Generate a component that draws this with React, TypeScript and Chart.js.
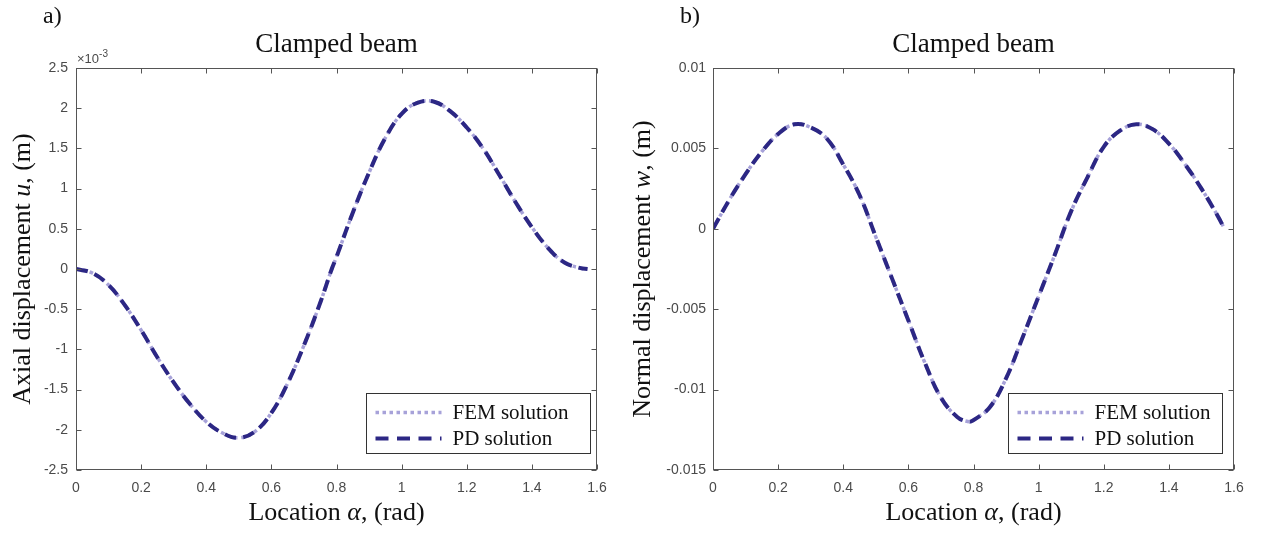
import React, { useEffect, useRef } from 'react';
import { Chart, registerables } from 'chart.js';

Chart.register(...registerables);

// ---------- data ----------
const alpha = [0, 0.05, 0.1, 0.15, 0.2, 0.25, 0.3, 0.35, 0.4, 0.45, 0.5, 0.55, 0.6, 0.65, 0.7, 0.75, 0.7854,
  0.8, 0.85, 0.9, 0.95, 1.0, 1.05, 1.1, 1.15, 1.2, 1.25, 1.3, 1.35, 1.4, 1.45, 1.5, 1.55, 1.5708];

// axial displacement u, in units of 1e-3 m
const axialU = [0, -0.05, -0.2, -0.45, -0.76, -1.1, -1.41, -1.68, -1.9, -2.04, -2.1, -2.02, -1.79, -1.42, -0.95, -0.42, 0,
  0.15, 0.7, 1.2, 1.63, 1.93, 2.07, 2.08, 1.96, 1.76, 1.5, 1.17, 0.83, 0.52, 0.26, 0.08, 0.01, 0];

// normal displacement w, in m
const normalW = [0, 0.0018, 0.0034, 0.0048, 0.0059, 0.0065, 0.0063, 0.0056, 0.004, 0.0021, -0.0005, -0.0031, -0.0057,
  -0.0083, -0.0105, -0.0117, -0.012, -0.0119, -0.0111, -0.0093, -0.0068, -0.0042, -0.0016, 0.0011, 0.0032, 0.0051,
  0.0061, 0.0065, 0.0062, 0.0053, 0.004, 0.0025, 0.0008, 0];

const xTicks = [0, 0.2, 0.4, 0.6, 0.8, 1, 1.2, 1.4, 1.6];
const yTicksU = [-2.5, -2, -1.5, -1, -0.5, 0, 0.5, 1, 1.5, 2, 2.5];
const yTicksW = [-0.015, -0.01, -0.005, 0, 0.005, 0.01];

const seriesLabels = ['FEM solution', 'PD solution'];
const titleText = 'Clamped beam';
const xLabelRuns = [
  { text: 'Location ', italic: false },
  { text: 'α', italic: true },
  { text: ', (rad)', italic: false },
];
const yLabelRunsU = [
  { text: 'Axial displacement ', italic: false },
  { text: 'u', italic: true },
  { text: ', (m)', italic: false },
];
const yLabelRunsW = [
  { text: 'Normal displacement ', italic: false },
  { text: 'w', italic: true },
  { text: ', (m)', italic: false },
];

// ---------- styles ----------
const FEM_COLOR = '#a7a2d9';
const PD_COLOR = '#2c2784';
const AXIS_COLOR = '#555555';
const TICK_LABEL_COLOR = '#4a4a4a';
const TEXT_COLOR = '#111111';
const SERIF = '"Liberation Serif", "Times New Roman", serif';
const SANS = '"Liberation Sans", Arial, sans-serif';
const CANVAS_H = 534;

type Run = { text: string; italic: boolean };

function drawRuns(ctx: CanvasRenderingContext2D, runs: Run[], x: number, y: number, size: number) {
  const fonts = runs.map((r) => `${r.italic ? 'italic ' : ''}${size}px ${SERIF}`);
  let total = 0;
  const widths = runs.map((r, i) => {
    ctx.font = fonts[i];
    const w = ctx.measureText(r.text).width;
    total += w;
    return w;
  });
  let cx = x - total / 2;
  ctx.textAlign = 'left';
  runs.forEach((r, i) => {
    ctx.font = fonts[i];
    ctx.fillText(r.text, cx, y);
    cx += widths[i];
  });
}

type PanelCfg = {
  letter: string;
  values: number[];
  yMin: number;
  yMax: number;
  yTicks: number[];
  yStep: number;
  yLabel: Run[];
  yFormat: (v: number) => string;
  exponent: boolean;
  canvasLeft: number;
  canvasWidth: number;
  axisWidth: number;
  padRight: number;
  yTickPad: number;
  legendRightOffset: number;
  legendWidth: number;
};

function decorPlugin(p: PanelCfg) {
  return {
    id: 'decor',
    afterDraw(chart: any) {
      const ctx: CanvasRenderingContext2D = chart.ctx;
      const a = chart.chartArea;
      const xs = chart.scales.x;
      const ys = chart.scales.y;
      ctx.save();

      // box
      ctx.strokeStyle = AXIS_COLOR;
      ctx.lineWidth = 1;
      ctx.setLineDash([]);
      const L = Math.round(a.left) + 0.5;
      const R = Math.round(a.right) - 0.5;
      const T = Math.round(a.top) + 0.5;
      const B = Math.round(a.bottom) - 0.5;
      ctx.strokeRect(L, T, R - L, B - T);

      // inward ticks
      const tl = 5;
      ctx.beginPath();
      xTicks.forEach((v) => {
        const px = Math.round(xs.getPixelForValue(v)) + 0.5;
        ctx.moveTo(px, B);
        ctx.lineTo(px, B - tl);
        ctx.moveTo(px, T);
        ctx.lineTo(px, T + tl);
      });
      p.yTicks.forEach((v) => {
        const py = Math.round(ys.getPixelForValue(v)) + 0.5;
        ctx.moveTo(L, py);
        ctx.lineTo(L + tl, py);
        ctx.moveTo(R, py);
        ctx.lineTo(R - tl, py);
      });
      ctx.stroke();

      // title
      const cx = (a.left + a.right) / 2;
      ctx.fillStyle = TEXT_COLOR;
      ctx.textBaseline = 'alphabetic';
      ctx.textAlign = 'center';
      ctx.font = `27px ${SERIF}`;
      ctx.fillText(titleText, cx, 52);

      // panel letter
      ctx.textAlign = 'left';
      ctx.font = `24px ${SERIF}`;
      ctx.fillText(p.letter, a.left - 33, 23);

      // exponent
      if (p.exponent) {
        ctx.fillStyle = TICK_LABEL_COLOR;
        ctx.font = `13px ${SANS}`;
        ctx.fillText('×10', a.left + 1, 63);
        const w = ctx.measureText('×10').width;
        ctx.font = `10px ${SANS}`;
        ctx.fillText('-3', a.left + 1 + w, 57);
      }

      // axis labels
      ctx.fillStyle = TEXT_COLOR;
      drawRuns(ctx, xLabelRuns, cx, 520, 26);
      ctx.save();
      ctx.translate(30, (a.top + a.bottom) / 2);
      ctx.rotate(-Math.PI / 2);
      drawRuns(ctx, p.yLabel, 0, 0, 26);
      ctx.restore();

      // legend
      const bw = p.legendWidth;
      const bh = 60;
      const bx = Math.round(a.right - p.legendRightOffset - bw) + 0.5;
      const by = Math.round(a.bottom - 17 - bh) + 0.5;
      ctx.fillStyle = '#ffffff';
      ctx.fillRect(bx, by, bw, bh);
      ctx.strokeStyle = '#333333';
      ctx.lineWidth = 1;
      ctx.setLineDash([]);
      ctx.strokeRect(bx, by, bw, bh);
      const rows = [
        { label: seriesLabels[0], color: FEM_COLOR, width: 3.5, dash: [3.5, 3.5], y: by + 19 },
        { label: seriesLabels[1], color: PD_COLOR, width: 4, dash: [13, 8.5], y: by + 45 },
      ];
      rows.forEach((r) => {
        ctx.beginPath();
        ctx.strokeStyle = r.color;
        ctx.lineWidth = r.width;
        ctx.setLineDash(r.dash);
        ctx.moveTo(bx + 9, r.y);
        ctx.lineTo(bx + 75, r.y);
        ctx.stroke();
        ctx.setLineDash([]);
        ctx.fillStyle = TEXT_COLOR;
        ctx.font = `21px ${SERIF}`;
        ctx.textBaseline = 'middle';
        ctx.textAlign = 'left';
        ctx.fillText(r.label, bx + 86, r.y + 1);
      });
      ctx.restore();
    },
  };
}

function makeConfig(p: PanelCfg): any {
  const pts = alpha.map((x, i) => ({ x, y: p.values[i] }));
  const tickFont = { family: SANS, size: 14 };
  return {
    type: 'line',
    data: {
      datasets: [
        {
          label: seriesLabels[0],
          data: pts,
          borderColor: FEM_COLOR,
          borderWidth: 3.5,
          borderDash: [3.5, 3.5],
          pointRadius: 0,
          fill: false,
          tension: 0.4,
          order: 1,
        },
        {
          label: seriesLabels[1],
          data: pts,
          borderColor: PD_COLOR,
          borderWidth: 4,
          borderDash: [12, 7],
          pointRadius: 0,
          fill: false,
          tension: 0.4,
          order: 0,
        },
      ],
    },
    options: {
      responsive: false,
      animation: false,
      events: [],
      layout: { padding: { left: 0, right: p.padRight, top: 68, bottom: 0 } },
      plugins: {
        legend: { display: false },
        tooltip: { enabled: false },
        title: { display: false },
      },
      scales: {
        x: {
          type: 'linear',
          min: 0,
          max: 1.6,
          grid: { display: false, drawTicks: false },
          border: { display: false },
          ticks: {
            stepSize: 0.2,
            padding: 10,
            color: TICK_LABEL_COLOR,
            font: tickFont,
            maxRotation: 0,
            autoSkip: false,
            callback: (v: number) => String(Math.round(v * 10) / 10),
          },
          afterFit: (s: any) => {
            s.height = CANVAS_H - 470;
          },
        },
        y: {
          type: 'linear',
          min: p.yMin,
          max: p.yMax,
          grid: { display: false, drawTicks: false },
          border: { display: false },
          ticks: {
            stepSize: p.yStep,
            padding: p.yTickPad,
            color: TICK_LABEL_COLOR,
            font: tickFont,
            autoSkip: false,
            callback: (v: number) => p.yFormat(v),
          },
          afterFit: (s: any) => {
            s.width = p.axisWidth;
          },
        },
      },
    },
    plugins: [decorPlugin(p)],
  };
}

const panels: PanelCfg[] = [
  {
    letter: 'a)',
    values: axialU,
    yMin: -2.5,
    yMax: 2.5,
    yTicks: yTicksU,
    yStep: 0.5,
    yLabel: yLabelRunsU,
    yFormat: (v) => String(Math.round(v * 10) / 10),
    exponent: true,
    canvasLeft: 0,
    canvasWidth: 620,
    axisWidth: 76,
    padRight: 23,
    yTickPad: 8,
    legendRightOffset: 7,
    legendWidth: 224,
  },
  {
    letter: 'b)',
    values: normalW,
    yMin: -0.015,
    yMax: 0.01,
    yTicks: yTicksW,
    yStep: 0.005,
    yLabel: yLabelRunsW,
    yFormat: (v) => String(parseFloat(v.toFixed(3))),
    exponent: false,
    canvasLeft: 620,
    canvasWidth: 641,
    axisWidth: 93,
    padRight: 27,
    yTickPad: 7,
    legendRightOffset: 12,
    legendWidth: 214,
  },
];

function Panel({ cfg }: { cfg: PanelCfg }) {
  const ref = useRef<HTMLCanvasElement>(null);
  useEffect(() => {
    const chart = new Chart(ref.current as HTMLCanvasElement, makeConfig(cfg));
    return () => chart.destroy();
  }, [cfg]);
  return (
    <canvas
      ref={ref}
      width={cfg.canvasWidth}
      height={CANVAS_H}
      style={{ position: 'absolute', left: cfg.canvasLeft, top: 0, width: cfg.canvasWidth, height: CANVAS_H }}
    />
  );
}

export default function App() {
  return (
    <div style={{ position: 'absolute', left: 0, top: 0, width: 1261, height: CANVAS_H, background: '#ffffff' }}>
      {panels.map((p) => (
        <Panel key={p.letter} cfg={p} />
      ))}
    </div>
  );
}
